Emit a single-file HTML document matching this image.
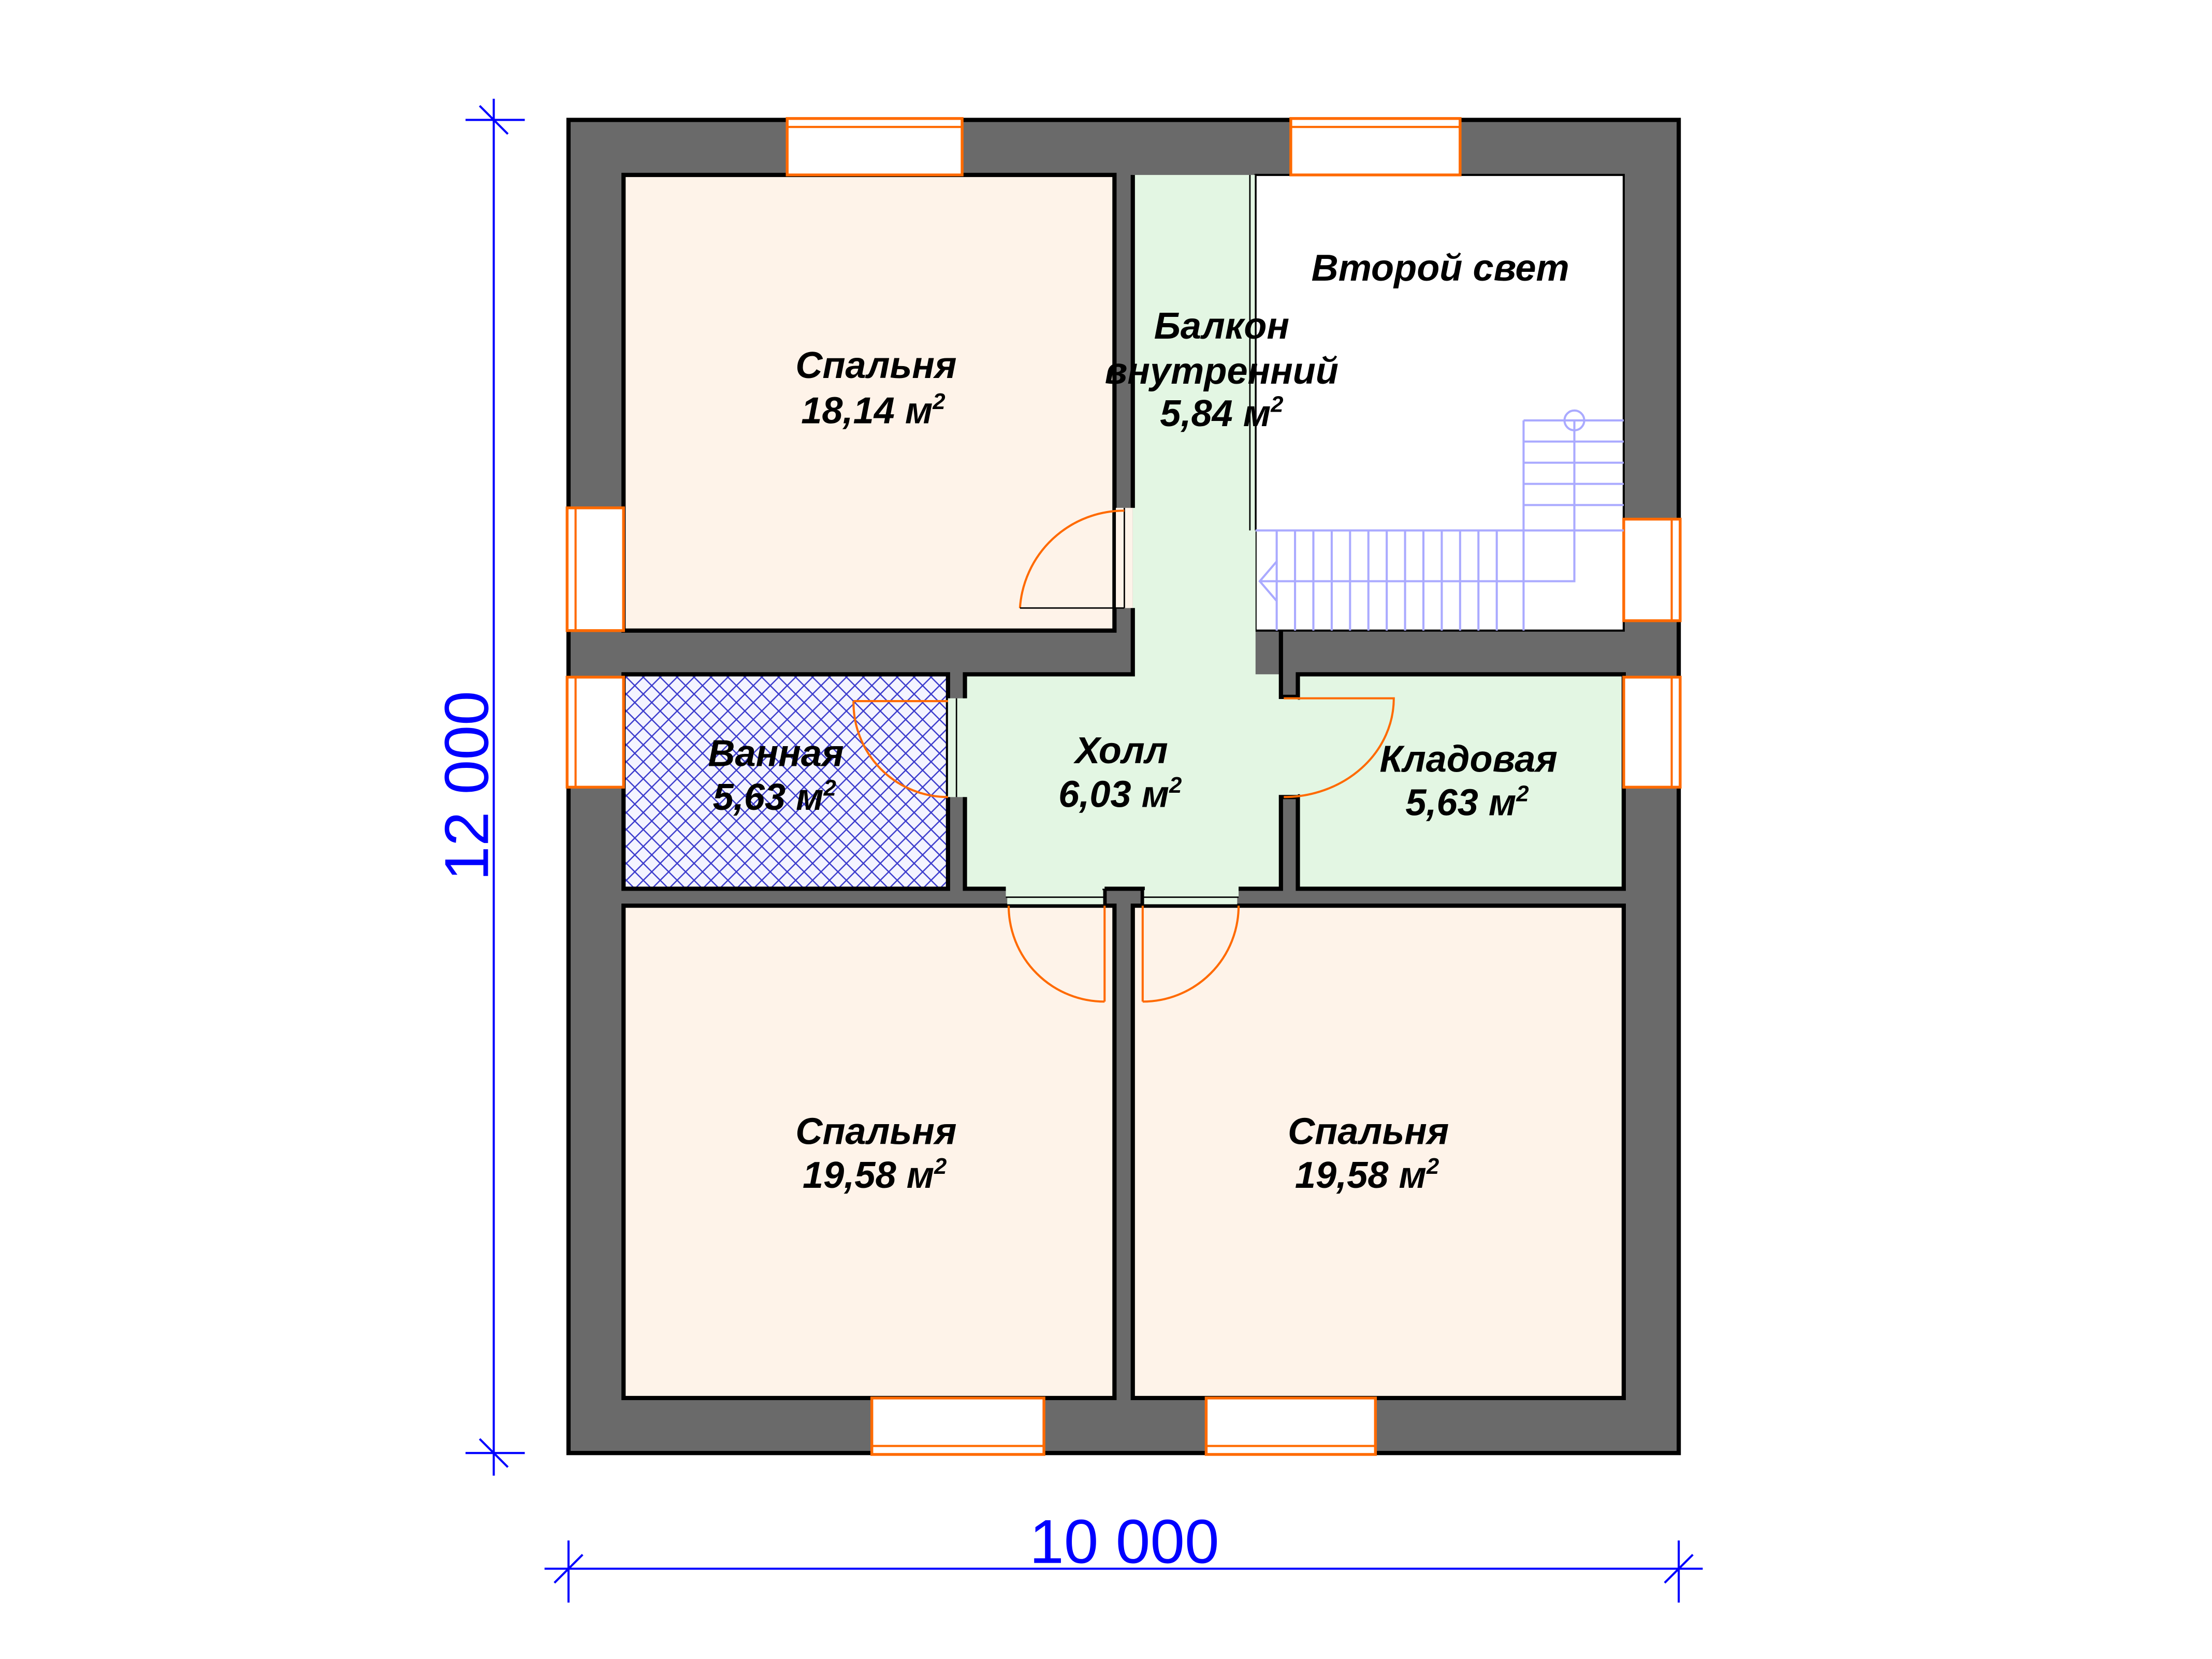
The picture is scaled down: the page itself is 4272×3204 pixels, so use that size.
<!DOCTYPE html>
<html><head><meta charset="utf-8"><style>html,body{margin:0;padding:0;background:#fff}svg{display:block}</style></head>
<body>
<svg width="4272" height="3204" viewBox="0 0 1568 1176" xmlns="http://www.w3.org/2000/svg">
<defs>
<pattern id="h" width="12" height="12" patternUnits="userSpaceOnUse">
<rect width="12" height="12" fill="#f4f4ff"/>
<path d="M0,0L12,12M12,0L0,12" stroke="#3a3acc" stroke-width="0.9"/>
</pattern>
</defs>
<rect width="1568" height="1176" fill="#fff"/>
<rect x="403" y="85" width="787" height="945" fill="#6a6a6a" stroke="#000" stroke-width="3"/>
<g stroke="#000" stroke-width="3">
<rect x="442" y="124" width="348" height="323" fill="#fef3e9"/>
<rect x="890" y="124" width="261" height="323" fill="#fff" stroke-width="1.5"/>
<rect x="920" y="478" width="231" height="152" fill="#e3f6e3"/>
<rect x="442" y="478" width="230" height="152" fill="url(#h)"/>
<rect x="442" y="642" width="348" height="349" fill="#fef3e9"/>
<rect x="803" y="642" width="348" height="349" fill="#fef3e9"/>
</g>
<path d="M803,124H890V478H908V494H920V565H908V630H878V636H810V630H783V636H713V630H684V565H672V495H684V478H803Z" fill="#e3f6e3" stroke="none"/>
<g stroke="#000" stroke-width="3" fill="none">
<path d="M803,124V360M803,431V478H684V495"/>
<path d="M908,447V494H920"/>
<path d="M920,565H908V630H878"/>
<path d="M684,565V630H713"/>
<path d="M783,630H810V642"/>
<path d="M783,630V642"/>
</g>
<rect x="791" y="360" width="12" height="71" fill="#fef3e9"/>
<path d="M797,360V431" stroke="#000" stroke-width="1"/>
<rect x="673" y="496" width="10" height="68" fill="#e3f6e3"/>
<rect x="909" y="496" width="13" height="67" fill="#e3f6e3"/>
<rect x="714" y="631" width="68" height="10" fill="#e3f6e3"/>
<rect x="811" y="631" width="66" height="10" fill="#e3f6e3"/>
<path d="M713,636H783M810,636H878" stroke="#000" stroke-width="1"/>
<path d="M678,495V565" stroke="#000" stroke-width="1"/>
<g fill="#fff" stroke="#ff6a00" stroke-width="2">
<rect x="558" y="84" width="124" height="40"/>
<rect x="915" y="84" width="120" height="40"/>
<rect x="618" y="991" width="122" height="40"/>
<rect x="855" y="991" width="120" height="40"/>
<rect x="402" y="360" width="40" height="87"/>
<rect x="402" y="480" width="40" height="78"/>
<rect x="1151" y="368" width="40" height="72"/>
<rect x="1151" y="480" width="40" height="78"/>
</g>
<g stroke="#ff6a00" stroke-width="1.5" fill="none">
<path d="M558,90H682M915,90H1035M618,1025H740M855,1025H975M408,360V447M408,480V558M1185,368V440M1185,480V558"/>
</g>
<g stroke="#ff6a00" stroke-width="1.5" fill="none">
<path d="M723,431A74,74 0 0 1 797,362"/>
<path d="M723,431H797" stroke="#000" stroke-width="1"/>
<path d="M605,497A67,67 0 0 0 672,565"/>
<path d="M605,497H672"/>
<path d="M910,495H988A78,70 0 0 1 910,565"/>
<path d="M715,642A68,68 0 0 0 783,710"/>
<path d="M783,642V710"/>
<path d="M878,642A68,68 0 0 1 810,710"/>
<path d="M810,642V710"/>
</g>
<path d="M886,124V376M890,124V376" stroke="#000" stroke-width="1"/>
<g stroke="#aaaaff" stroke-width="1.5" fill="none">
<path d="M1080,298H1151M1080,313H1151M1080,328H1151M1080,343H1151M1080,358H1151M890,376H1151"/>
<path d="M1080,298V447"/>
<path d="M1116,298V412H893"/>
<path d="M905,376V447M918,376V447M931,376V447M944,376V447M957,376V447M970,376V447M983,376V447M996,376V447M1009,376V447M1022,376V447M1035,376V447M1048,376V447M1061,376V447"/>
<path d="M905,398L893,412L905,426"/>
<circle cx="1116" cy="298" r="7"/>
</g>
<g font-family="Liberation Sans, sans-serif" font-weight="bold" font-style="italic" font-size="26.5" fill="#000" text-anchor="middle">
<text x="621" y="268">Спальня</text>
<text x="619" y="300">18,14 м<tspan font-size="16" dy="-10">2</tspan></text>
<text x="1021" y="199">Второй свет</text>
<text x="866" y="240">Балкон</text>
<text x="866" y="272">внутренний</text>
<text x="866" y="302">5,84 м<tspan font-size="16" dy="-10">2</tspan></text>
<text x="550" y="543">Ванная</text>
<text x="549" y="574">5,63 м<tspan font-size="16" dy="-10">2</tspan></text>
<text x="795" y="541">Холл</text>
<text x="794" y="572">6,03 м<tspan font-size="16" dy="-10">2</tspan></text>
<text x="1041" y="547">Кладовая</text>
<text x="1040" y="578">5,63 м<tspan font-size="16" dy="-10">2</tspan></text>
<text x="621" y="811">Спальня</text>
<text x="620" y="842">19,58 м<tspan font-size="16" dy="-10">2</tspan></text>
<text x="970" y="811">Спальня</text>
<text x="969" y="842">19,58 м<tspan font-size="16" dy="-10">2</tspan></text>
</g>
<g stroke="#0000ff" stroke-width="1.5">
<path d="M350,70V1046M330,85H372M330,1030H372M340,75L360,95M340,1020L360,1040"/>
<path d="M386,1112H1207M403,1092V1136M1190,1092V1136M393,1122L413,1102M1180,1122L1200,1102"/>
</g>
<g font-family="Liberation Sans, sans-serif" fill="#0000ff" font-size="44" text-anchor="middle">
<text x="797" y="1108">10 000</text>
<text transform="translate(346,557) rotate(-90)" y="0">12 000</text>
</g>
</svg>
</body></html>
